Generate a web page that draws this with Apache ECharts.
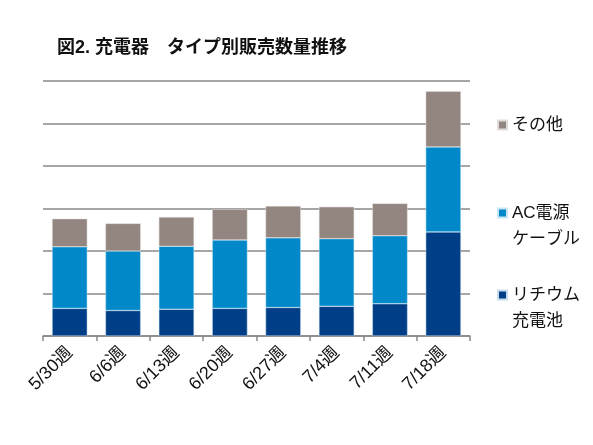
<!DOCTYPE html>
<html>
<head>
<meta charset="utf-8">
<script src="https://cdn.jsdelivr.net/npm/echarts@6/dist/echarts.min.js"></script>
<style>
  html, body { margin: 0; padding: 0; background: #fff; }
  #chart { width: 593px; height: 445px; }
</style>
</head>
<body>
<div id="chart"></div>
<script>
var weeks = ['5/30週', '6/6週', '6/13週', '6/20週', '6/27週', '7/4週', '7/11週', '7/18週'];
var lithium = [0.65, 0.60, 0.63, 0.65, 0.67, 0.70, 0.76, 2.45];
var acCable = [1.45, 1.40, 1.48, 1.61, 1.64, 1.59, 1.60, 2.00];
var others = [0.66, 0.65, 0.69, 0.72, 0.75, 0.75, 0.76, 1.31];

var font = '"Liberation Sans", "Noto Sans CJK JP", sans-serif';

var chart = echarts.init(document.getElementById('chart'));

// square at the top of a tall icon box so it sits next to the first line
var topSquare = 'path://M0,0L9,0L9,9L0,9Z M0,35L0,35';

function legendAt(name, top, twoLine) {
  return {
    data: [name],
    left: 492,
    top: top,
    itemWidth: 9,
    itemHeight: twoLine ? 35 : 9,
    itemGap: 4,
    selectedMode: false,
    icon: twoLine ? topSquare : 'rect',
    textStyle: {
      fontFamily: font,
      fontSize: 17,
      color: '#111',
      lineHeight: 26
    }
  };
}

var option = {
  animation: false,
  title: {
    text: '図2. 充電器　タイプ別販売数量推移',
    left: 52,
    top: 34,
    textStyle: { fontFamily: font, fontSize: 18, fontWeight: 'bold', color: '#111' }
  },
  legend: [
    legendAt('その他', 107, false),
    legendAt('AC電源\nケーブル', 195, true),
    legendAt('リチウム\n充電池', 277, true)
  ],
  grid: { left: 43, right: 123, top: 81, bottom: 109 },
  xAxis: {
    type: 'category',
    data: weeks,
    axisLine: { lineStyle: { color: '#888', width: 1.5 } },
    axisTick: { show: true, length: 5, lineStyle: { color: '#888', width: 1.5 } },
    axisLabel: {
      rotate: 45,
      margin: 14,
      fontFamily: font,
      fontSize: 18,
      color: '#111'
    }
  },
  yAxis: {
    type: 'value',
    min: 0,
    max: 6,
    interval: 1,
    axisLabel: { show: false },
    axisLine: { show: false },
    axisTick: { show: false },
    splitLine: { lineStyle: { color: '#888', width: 1.5 } }
  },
  series: [
    {
      name: 'リチウム\n充電池',
      type: 'bar',
      stack: 'total',
      data: lithium,
      barWidth: '66%',
      itemStyle: { color: '#003f87', borderColor: '#c8dcee', borderWidth: 0.5 }
    },
    {
      name: 'AC電源\nケーブル',
      type: 'bar',
      stack: 'total',
      data: acCable,
      itemStyle: { color: '#0088c8', borderColor: '#c8e6f4', borderWidth: 0.5 }
    },
    {
      name: 'その他',
      type: 'bar',
      stack: 'total',
      data: others,
      itemStyle: { color: '#938680', borderColor: '#e0dcda', borderWidth: 0.5 }
    }
  ]
};

chart.setOption(option);
</script>
</body>
</html>
